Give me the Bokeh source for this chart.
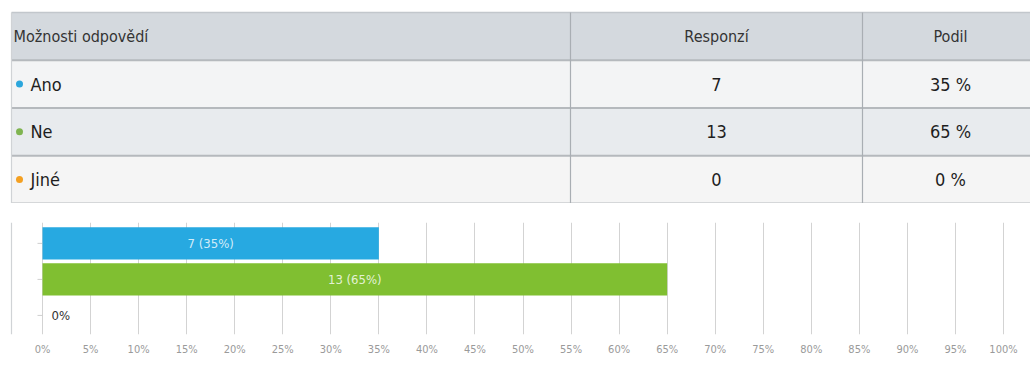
from bokeh.plotting import figure
from bokeh.layouts import column
from bokeh.models import Range1d, FixedTicker, Span, ColumnDataSource
from bokeh.core.properties import value
from bokeh.embed import file_html
from bokeh.resources import INLINE

# ---- data ----
options = ["Ano", "Ne", "Jiné"]
responses = [7, 13, 0]
shares = [35, 65, 0]
bar_colors = ["#27a9e1", "#80bf31", "#f5a31e"]
dot_colors = ["#2ba6dc", "#7fb450", "#f4a021"]
header = ["Možnosti odpovědí", "Responzí", "Podil"]
tick_values = list(range(0, 101, 5))

# ---- style / layout constants ----
FONT = "'DejaVu Sans Condensed', 'Roboto', sans-serif"
W = 1030
TABLE_H = 203
CHART_H = 163
LEFT = 11
COL1 = 570
COL2 = 862
COL1_C = 716
COL2_C = 950
PX0, PX100 = 42, 1003

# ================= table =================
t = figure(width=W, height=TABLE_H, x_range=Range1d(0, W), y_range=Range1d(4.0, -0.25),
           x_axis_type=None, y_axis_type=None, toolbar_location=None,
           output_backend="svg", min_border=0)
t.grid.visible = False
t.outline_line_color = None
t.background_fill_color = "white"
t.border_fill_color = "white"

n = len(options)
rows = [i + 1 for i in range(n)]
row_fill = ["#f3f4f5", "#e8ebee", "#f5f5f5"]

t.quad(left=LEFT, right=W, top=0, bottom=1, fill_color="#d4d9de", line_color=None)
t.quad(left=[LEFT] * n, right=[W] * n, top=rows, bottom=[r + 1 for r in rows],
       fill_color=row_fill, line_color=None)

# horizontal lines
t.segment(x0=LEFT, x1=W, y0=0, y1=0, line_color="#c2c7cc", line_width=1.5)
t.segment(x0=[LEFT] * (n + 1), x1=[W] * (n + 1), y0=list(range(1, n + 2)), y1=list(range(1, n + 2)),
          line_color="#b5b9bd", line_width=2)
# vertical lines
t.segment(x0=[COL1, COL2], x1=[COL1, COL2], y0=[0, 0], y1=[n + 1, n + 1],
          line_color="#a9aeb3", line_width=1.2)
t.segment(x0=LEFT, x1=LEFT, y0=0, y1=n + 1.2, line_color="#d0d3d6", line_width=1.2)

t.text(x=[13], y=[0.5], text=[header[0]], text_font=value(FONT), text_font_size="16px",
       text_color="#333333", text_baseline="middle", text_align="left")
t.text(x=[COL1_C, COL2_C], y=[0.5, 0.5], text=header[1:], text_font=value(FONT),
       text_font_size="16px", text_color="#333333", text_baseline="middle", text_align="center")

ymid = [r + 0.5 for r in rows]
t.scatter(x=[19] * n, y=ymid, size=7, fill_color=dot_colors, line_color=None)
t.text(x=[30] * n, y=ymid, text=options, text_font=value(FONT), text_font_size="18px",
       text_color="#1e1e1e", text_baseline="middle", text_align="left")
t.text(x=[COL1_C] * n, y=ymid, text=[str(v) for v in responses], text_font=value(FONT),
       text_font_size="18px", text_color="#1e1e1e", text_baseline="middle", text_align="center")
t.text(x=[COL2_C] * n, y=ymid, text=[f"{v} %" for v in shares], text_font=value(FONT),
       text_font_size="18px", text_color="#1e1e1e", text_baseline="middle", text_align="center")

# ================= chart =================
scale = (PX100 - PX0) / 100.0
c = figure(width=W, height=CHART_H,
           x_range=Range1d(-PX0 / scale, (W - PX0) / scale),
           y_range=Range1d(2.53, -0.58),
           y_axis_type=None, toolbar_location=None, output_backend="svg",
           min_border_left=0, min_border_right=0, min_border_top=19, min_border_bottom=32)
c.outline_line_color = None
c.background_fill_color = "white"
c.border_fill_color = "white"
c.ygrid.visible = False
c.xgrid.ticker = FixedTicker(ticks=tick_values)
c.xgrid.grid_line_color = "#d3d3d3"
c.xaxis.ticker = FixedTicker(ticks=tick_values)
c.xaxis.major_label_overrides = {v: f"{v}%" for v in tick_values}
c.xaxis.axis_line_color = None
c.xaxis.major_tick_line_color = None
c.xaxis.minor_tick_line_color = None
c.xaxis.major_tick_out = 0
c.xaxis.major_tick_in = 0
c.xaxis.major_label_standoff = 8
c.xaxis.major_label_text_font = FONT
c.xaxis.major_label_text_font_size = "11px"
c.xaxis.major_label_text_color = "#9a9a9a"

idx = list(range(n))
c.add_layout(Span(location=(LEFT - PX0) / scale, dimension="height",
                  line_color="#d0d3d6", line_width=1.2))
c.segment(x0=[-5 / scale] * n, x1=[0] * n, y0=idx, y1=idx, line_color="#cfcfcf", line_width=1)

c.hbar(y=idx, left=0, right=shares, height=0.89, fill_color=bar_colors, line_color=None)

inside = ColumnDataSource(dict(
    x=[s / 2 for s in shares if s > 0],
    y=[i for i, s in zip(idx, shares) if s > 0],
    t=[f"{r} ({s}%)" for r, s in zip(responses, shares) if s > 0]))
outside = ColumnDataSource(dict(
    x=[s for s in shares if s == 0],
    y=[i for i, s in zip(idx, shares) if s == 0],
    t=[f"{s}%" for s in shares if s == 0]))
c.text(x="x", y="y", text="t", source=inside, text_font=value(FONT), text_font_size="13px",
       text_color="white", text_alpha=0.8, text_align="center", text_baseline="middle")
c.text(x="x", y="y", text="t", source=outside, text_font=value(FONT), text_font_size="13px",
       text_color="#333333", text_align="left", text_baseline="middle", x_offset=9)

layout = column(t, c, spacing=0)
open("out.html", "w").write(file_html(layout, INLINE))
